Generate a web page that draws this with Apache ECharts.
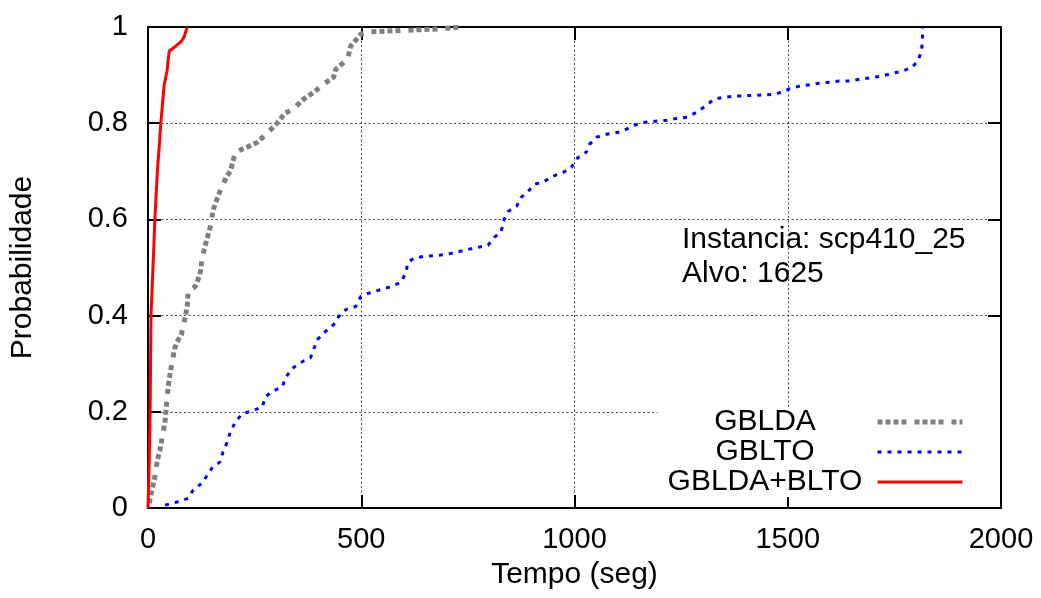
<!DOCTYPE html>
<html>
<head>
<meta charset="utf-8">
<script src="https://cdn.jsdelivr.net/npm/echarts@6/dist/echarts.min.js"></script>
<style>
  html, body { margin: 0; padding: 0; background: #fff; }
  #main { width: 1041px; height: 598px; }
</style>
</head>
<body>
<div id="main"></div>
<script>
// tempos (seg) e probabilidades acumuladas
var gbldaTempo = [3, 10, 16, 22, 28, 34, 40, 44, 47, 52, 56, 62, 68, 78, 82, 88, 92, 94, 110, 115,
  122, 127, 134, 146, 153, 165, 174, 185, 193, 205, 232, 256, 280, 303, 320, 341, 365, 390, 409, 435,
  440, 468, 475, 499, 520, 600, 680, 734];
var gbldaProb = [0.01, 0.04, 0.065, 0.1, 0.12, 0.15, 0.18, 0.22, 0.25, 0.28, 0.3, 0.33, 0.345, 0.36, 0.375, 0.4, 0.42, 0.45, 0.46, 0.47,
  0.485, 0.52, 0.545, 0.585, 0.62, 0.65, 0.67, 0.69, 0.70, 0.74, 0.75, 0.76, 0.78, 0.80, 0.82, 0.83, 0.85, 0.865, 0.88, 0.895,
  0.912, 0.933, 0.96, 0.985, 0.99, 0.993, 0.996, 1.0];

var gbltoTempo = [40, 68, 94, 106, 127, 150, 169, 176, 186, 193, 205, 221, 245, 268, 275, 291, 315, 322, 338, 357,
  381, 388, 397, 416, 435, 447, 464, 487, 499, 522, 546, 569, 593, 605, 609, 624, 647, 699, 750, 797,
  812, 828, 835, 845, 864, 875, 891, 906, 929, 950, 974, 993, 1000, 1009, 1028, 1035, 1052, 1075, 1103, 1122,
  1141, 1165, 1188, 1216, 1240, 1264, 1287, 1306, 1327, 1351, 1374, 1420, 1471, 1503, 1527, 1574, 1621, 1645, 1671, 1699,
  1720, 1746, 1769, 1793, 1807, 1814, 1816, 1816];
var gbltoProb = [0.006, 0.0125, 0.02, 0.0375, 0.052, 0.083, 0.096, 0.117, 0.1375, 0.158, 0.179, 0.196, 0.202, 0.21, 0.231, 0.242, 0.252, 0.27, 0.29, 0.302,
  0.3125, 0.329, 0.35, 0.367, 0.381, 0.398, 0.4125, 0.419, 0.44, 0.448, 0.454, 0.46, 0.469, 0.49, 0.51, 0.52, 0.523, 0.527, 0.5375, 0.546,
  0.5625, 0.575, 0.6, 0.617, 0.627, 0.646, 0.658, 0.673, 0.679, 0.69, 0.698, 0.708, 0.721, 0.729, 0.74, 0.756, 0.771, 0.777, 0.781, 0.7875,
  0.796, 0.802, 0.804, 0.806, 0.81, 0.8125, 0.823, 0.835, 0.85, 0.854, 0.856, 0.858, 0.86, 0.871, 0.877, 0.883, 0.8875, 0.8875, 0.892, 0.895,
  0.898, 0.904, 0.908, 0.917, 0.933, 0.952, 0.975, 1.0];

var hibTempo = [0, 3, 5, 7, 14, 16, 22, 27, 30, 33, 36, 38, 45, 47, 50, 65, 78, 85, 92];
var hibProb = [0, 0.1, 0.2, 0.4, 0.55, 0.6, 0.7, 0.76, 0.8, 0.83, 0.86, 0.88, 0.91, 0.93, 0.95, 0.96, 0.97, 0.98, 1.0];

var xTicks = [0, 500, 1000, 1500, 2000];
var yTicks = [0, 0.2, 0.4, 0.6, 0.8, 1];

function pares(xs, ys) {
  var out = [];
  for (var i = 0; i < xs.length; i++) out.push([xs[i], ys[i]]);
  return out;
}

var fonte = 'Liberation Sans, Arial, sans-serif';
var preto = '#000';
var gradeLinha = { show: true, lineStyle: { color: '#444', width: 1, type: [2, 2.5] } };

var myChart = echarts.init(document.getElementById('main'));

myChart.setOption({
  animation: false,
  backgroundColor: '#fff',
  textStyle: { fontFamily: fonte, color: preto },
  grid: { left: 148, right: 40, top: 27, bottom: 90, containLabel: false },
  xAxis: [{
    type: 'value',
    min: xTicks[0], max: xTicks[xTicks.length - 1], interval: 500,
    name: 'Tempo (seg)', nameLocation: 'middle', nameGap: 52,
    nameTextStyle: { fontSize: 30, color: preto, fontFamily: fonte },
    axisLine: { show: true, onZero: false, lineStyle: { color: preto, width: 2 } },
    axisTick: { show: true, inside: true, length: 13, lineStyle: { color: preto, width: 2 } },
    axisLabel: { fontSize: 29, color: preto, margin: 17, fontFamily: fonte,
      formatter: function (v) { return String(v); } },
    splitLine: gradeLinha
  }, {
    type: 'value', position: 'top',
    min: xTicks[0], max: xTicks[xTicks.length - 1], interval: 500,
    axisLine: { show: true, onZero: false, lineStyle: { color: preto, width: 2 } },
    axisTick: { show: true, inside: true, length: 13, lineStyle: { color: preto, width: 2 } },
    axisLabel: { show: false },
    splitLine: { show: false }
  }],
  yAxis: [{
    type: 'value',
    min: yTicks[0], max: yTicks[yTicks.length - 1], interval: 0.2,
    name: 'Probabilidade', nameLocation: 'middle', nameGap: 110,
    nameTextStyle: { fontSize: 30, color: preto, fontFamily: fonte },
    axisLine: { show: true, onZero: false, lineStyle: { color: preto, width: 2 } },
    axisTick: { show: true, inside: true, length: 13, lineStyle: { color: preto, width: 2 } },
    axisLabel: { fontSize: 29, color: preto, margin: 20, fontFamily: fonte },
    splitLine: gradeLinha
  }, {
    type: 'value', position: 'right',
    min: yTicks[0], max: yTicks[yTicks.length - 1], interval: 0.2,
    axisLine: { show: true, onZero: false, lineStyle: { color: preto, width: 2 } },
    axisTick: { show: true, inside: true, length: 13, lineStyle: { color: preto, width: 2 } },
    axisLabel: { show: false },
    splitLine: { show: false }
  }],
  legend: {
    orient: 'vertical',
    align: 'right',
    right: 41,
    top: 407,
    padding: [0, 35, 0, 0],
    backgroundColor: '#fff',
    itemWidth: 85,
    itemHeight: 14,
    itemGap: 0,
    selectedMode: false,
    itemStyle: { opacity: 0 },
    lineStyle: { width: 'inherit' },
    formatter: '{c|{name}}',
    textStyle: {
      rich: { c: { width: 215, align: 'center', fontSize: 30, lineHeight: 29, color: preto, fontFamily: fonte } }
    },
    data: ['GBLDA', 'GBLTO', 'GBLDA+BLTO']
  },
  graphic: [
    { type: 'text', left: 682, top: 225, style: { text: 'Instancia: scp410_25', fontSize: 30, fill: preto, fontFamily: fonte } },
    { type: 'text', left: 682, top: 259, style: { text: 'Alvo: 1625', fontSize: 30, fill: preto, fontFamily: fonte } }
  ],
  series: [{
    name: 'GBLDA', type: 'line', symbol: 'none',
    lineStyle: { color: '#808080', width: 5, type: [5, 3, 5, 3, 5, 3, 5, 8] },
    itemStyle: { color: '#808080' },
    data: pares(gbldaTempo, gbldaProb)
  }, {
    name: 'GBLTO', type: 'line', symbol: 'none',
    lineStyle: { color: '#0000ff', width: 3, type: [4, 6] },
    itemStyle: { color: '#0000ff' },
    data: pares(gbltoTempo, gbltoProb)
  }, {
    name: 'GBLDA+BLTO', type: 'line', symbol: 'none',
    lineStyle: { color: '#ff0000', width: 3 },
    itemStyle: { color: '#ff0000' },
    data: pares(hibTempo, hibProb)
  }]
});
</script>
</body>
</html>
